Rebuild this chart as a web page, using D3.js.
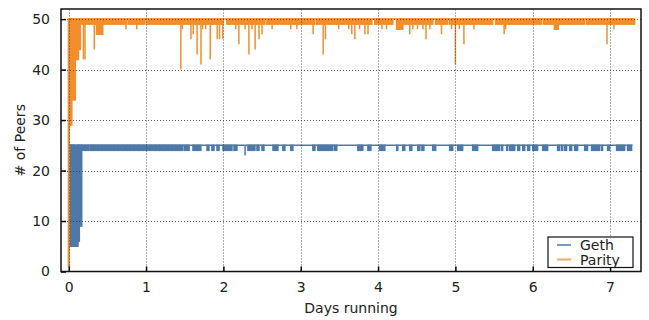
<!DOCTYPE html>
<html>
<head>
<meta charset="utf-8">
<script src="https://cdn.jsdelivr.net/npm/d3@7"></script>
<style>
  body { margin: 0; background: #fff; }
  svg { display: block; }
  text { font-family: "DejaVu Sans", sans-serif; fill: #222; }
</style>
</head>
<body>
<div id="chart"></div>
<script>
// axis ticks
const xTicks = [0, 1, 2, 3, 4, 5, 6, 7];
const yTicks = [0, 10, 20, 30, 40, 50];
const seriesNames = ['Geth', 'Parity'];
const seriesColors = ['#4e79a7', '#f28e2b'];

// Geth: sits at 25 peers
const gethBase = 25;
const gethSpan = [0.005, 7.29];
// start-up phase [from, to, lowest count]
const gethEarly = [
  [0.005, 0.026, 5], [0.026, 0.034, 8], [0.034, 0.06, 5], [0.06, 0.07, 8],
  [0.07, 0.12, 5], [0.12, 0.137, 6], [0.137, 0.168, 9]
];
// stretches where the count keeps flipping between 24 and 25
const gethFlicker = [
  [0.17, 0.21], [0.22, 0.26], [0.275, 0.31], [0.32, 0.37], [0.38, 0.42],
  [0.43, 0.47], [0.48, 0.53], [0.54, 0.58], [0.59, 0.63], [0.64, 0.69],
  [0.70, 0.74], [0.75, 0.79], [0.80, 0.84], [0.85, 0.90], [0.91, 0.96],
  [0.97, 1.01], [1.02, 1.06], [1.07, 1.12], [1.13, 1.17], [1.18, 1.22],
  [1.23, 1.28], [1.29, 1.33], [1.34, 1.38], [1.39, 1.43], [1.44, 1.47],
  [1.492, 1.557], [1.606, 1.709], [1.788, 1.813], [1.852, 1.878], [1.917, 1.943],
  [1.995, 2.111], [2.137, 2.175], [2.317, 2.408], [2.434, 2.46], [2.499, 2.524],
  [2.641, 2.705], [2.769, 2.795], [2.872, 2.898], [3.157, 3.183], [3.221, 3.415],
  [3.44, 3.466], [3.738, 3.803], [3.868, 3.907], [4.022, 4.087], [4.242, 4.255],
  [4.319, 4.345], [4.41, 4.436], [4.514, 4.54], [4.566, 4.592], [4.706, 4.745],
  [4.926, 4.965], [5.03, 5.094], [5.223, 5.288], [5.482, 5.534], [5.547, 5.572],
  [5.598, 5.611], [5.663, 5.676], [5.702, 5.728], [5.741, 5.767], [5.805, 5.831],
  [5.87, 5.896], [5.934, 5.96], [5.999, 6.063], [6.128, 6.193], [6.322, 6.348],
  [6.374, 6.386], [6.412, 6.438], [6.477, 6.503], [6.541, 6.58], [6.671, 6.709],
  [6.761, 6.865], [6.89, 6.903], [6.968, 6.994], [7.084, 7.188], [7.226, 7.278]
];
const gethDips = [[2.28, 23]];

// Parity: sits at 50 peers
const parityBase = 50;
const paritySpan = [0.0, 7.317];
const parityEarly = [
  [-0.004, 0.006, 1], [0.006, 0.04, 29], [0.04, 0.05, 36], [0.05, 0.085, 34],
  [0.085, 0.125, 42], [0.125, 0.15, 44], [0.36, 0.44, 47],
  [4.24, 4.32, 48], [6.28, 6.33, 48]
];
const parityFlicker = [
  [0.15, 0.417], [0.43, 0.74], [0.766, 0.986], [1.012, 1.994], [2.045, 2.536],
  [2.562, 2.82], [2.833, 3.181], [3.207, 3.919], [3.957, 4.19], [4.242, 4.707],
  [4.745, 4.9], [4.926, 5.482], [5.521, 5.857], [5.87, 6.115], [6.141, 6.671],
  [6.697, 7.317]
];
const parityDips = [
  [0.19, 42], [0.21, 42], [0.33, 44], [0.74, 48], [0.88, 48],
  [1.45, 40], [1.47, 48], [1.58, 46], [1.61, 47], [1.66, 43], [1.71, 41],
  [1.73, 48], [1.77, 48], [1.83, 42], [1.92, 46], [1.95, 46], [1.99, 46],
  [2.16, 48], [2.2, 45], [2.28, 48], [2.33, 43], [2.37, 48], [2.41, 44],
  [2.46, 46], [2.5, 47], [2.63, 48], [2.87, 48], [2.95, 48], [3.16, 47],
  [3.29, 43], [3.32, 46], [3.49, 48], [3.62, 48], [3.66, 47], [3.7, 46],
  [3.76, 48], [3.83, 47], [3.87, 47], [4.05, 48], [4.11, 48], [4.41, 47],
  [4.45, 48], [4.51, 48], [4.58, 48], [4.62, 46], [4.67, 48], [4.82, 47],
  [4.95, 48], [5.0, 41], [5.05, 48], [5.11, 45], [5.24, 48], [5.63, 47],
  [5.65, 48], [6.96, 45], [7.05, 48]
];

const W = 649, H = 320;
const margin = { top: 9, right: 8, bottom: 48.5, left: 61 };

const svg = d3.select('#chart').append('svg')
  .attr('width', W)
  .attr('height', H);

const x = d3.scaleLinear().domain([-0.1, 7.4]).range([margin.left, W - margin.right]);
const y = d3.scaleLinear().domain([0, 52]).range([H - margin.bottom, margin.top]);

const plot = svg.append('g');
const lw = 1.5;

function drawSeries(base, span, early, flicker, dips, color) {
  const line = d3.line().x(d => x(d[0])).y(d => y(d[1]));
  plot.append('path')
    .datum([[span[0], base], [span[1], base]])
    .attr('fill', 'none')
    .attr('stroke', color)
    .attr('stroke-width', lw)
    .attr('d', line);

  plot.selectAll(null)
    .data(flicker.map(d => [d[0], d[1], base - 1]).concat(early))
    .enter()
    .append('rect')
    .attr('x', d => x(d[0]) - lw / 2)
    .attr('width', d => x(d[1]) - x(d[0]) + lw)
    .attr('y', y(base) - lw / 2)
    .attr('height', d => y(d[2]) - y(base) + lw)
    .attr('fill', color);

  plot.selectAll(null)
    .data(dips)
    .enter()
    .append('line')
    .attr('x1', d => x(d[0]))
    .attr('x2', d => x(d[0]))
    .attr('y1', y(base))
    .attr('y2', d => y(d[1]))
    .attr('stroke', color)
    .attr('stroke-width', lw);
}

drawSeries(gethBase, gethSpan, gethEarly, gethFlicker, gethDips, seriesColors[0]);
drawSeries(parityBase, paritySpan, parityEarly, parityFlicker, parityDips, seriesColors[1]);

// grid, on top of the data
const grid = svg.append('g')
  .attr('stroke', '#333')
  .attr('stroke-width', 1)
  .attr('stroke-dasharray', '1,2')
  .attr('opacity', 0.8);
grid.selectAll(null).data(xTicks).enter().append('line')
  .attr('x1', d => Math.round(x(d)) + 0.5).attr('x2', d => Math.round(x(d)) + 0.5)
  .attr('y1', y.range()[0]).attr('y2', y.range()[1]);
grid.selectAll(null).data(yTicks.slice(1)).enter().append('line')
  .attr('y1', d => Math.round(y(d)) + 0.5).attr('y2', d => Math.round(y(d)) + 0.5)
  .attr('x1', x.range()[0]).attr('x2', x.range()[1]);

// axes with inward ticks
const xAxis = svg.append('g')
  .attr('transform', `translate(0,${y.range()[0]})`)
  .call(d3.axisBottom(x).tickValues(xTicks).tickSizeInner(-5).tickSizeOuter(0).tickPadding(11));
const yAxis = svg.append('g')
  .attr('transform', `translate(${x.range()[0]},0)`)
  .call(d3.axisLeft(y).tickValues(yTicks).tickSizeInner(-5).tickSizeOuter(0).tickPadding(11));
[xAxis, yAxis].forEach(a => {
  a.select('.domain').remove();
  a.selectAll('.tick line').attr('stroke', '#000').attr('stroke-width', 1.5);
  a.selectAll('text').attr('font-size', 14).attr('font-family', '"DejaVu Sans", sans-serif').attr('fill', '#222');
});

// frame
svg.append('rect')
  .attr('x', x.range()[0])
  .attr('y', y.range()[1])
  .attr('width', x.range()[1] - x.range()[0])
  .attr('height', y.range()[0] - y.range()[1])
  .attr('fill', 'none')
  .attr('stroke', '#111')
  .attr('stroke-width', 1.5);

// axis titles
svg.append('text')
  .attr('x', (x.range()[0] + x.range()[1]) / 2)
  .attr('y', 313)
  .attr('text-anchor', 'middle')
  .attr('font-size', 14)
  .text('Days running');
svg.append('text')
  .attr('transform', `translate(25,${(y.range()[0] + y.range()[1]) / 2}) rotate(-90)`)
  .attr('text-anchor', 'middle')
  .attr('font-size', 14)
  .text('# of Peers');

// legend
const legend = svg.append('g').attr('transform', 'translate(548,237)');
legend.append('rect')
  .attr('width', 85)
  .attr('height', 30.5)
  .attr('fill', '#fff')
  .attr('stroke', '#111')
  .attr('stroke-width', 1.2);
seriesNames.forEach((name, i) => {
  const row = legend.append('g').attr('transform', `translate(0,${8 + i * 14.5})`);
  row.append('line')
    .attr('x1', 9).attr('x2', 23)
    .attr('stroke', seriesColors[i])
    .attr('stroke-width', 2)
    .attr('opacity', 0.75);
  row.append('text')
    .attr('x', 32)
    .attr('y', 5)
    .attr('font-size', 14)
    .text(name);
});
</script>
</body>
</html>
